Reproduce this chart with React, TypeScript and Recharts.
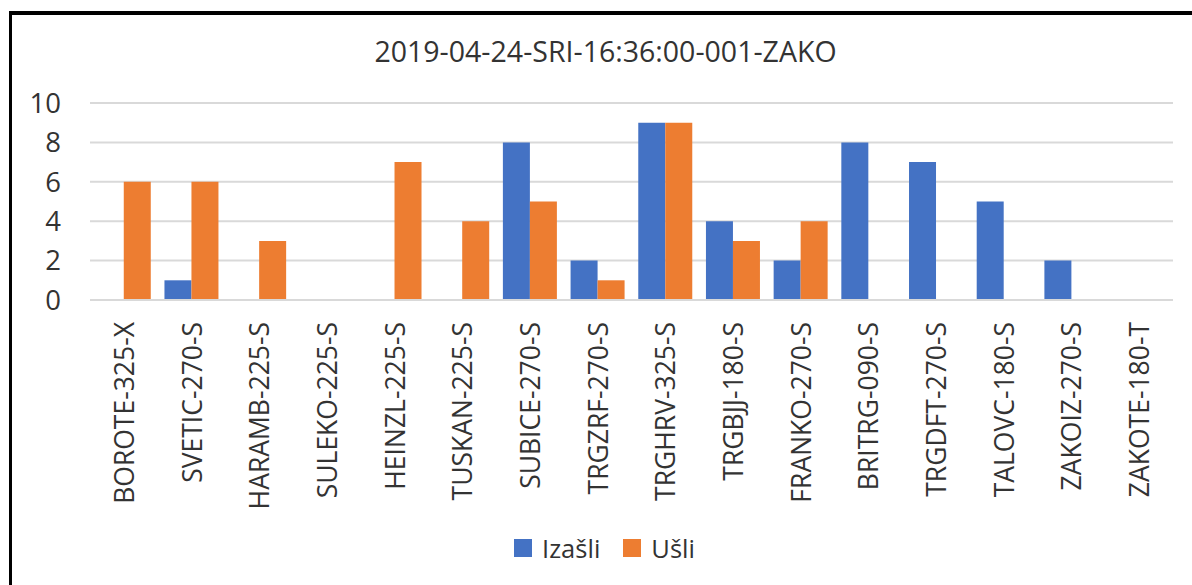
import { BarChart, Bar, XAxis, YAxis, CartesianGrid, Legend } from 'recharts';

const stations = [
  'BOROTE-325-X', 'SVETIC-270-S', 'HARAMB-225-S', 'SULEKO-225-S',
  'HEINZL-225-S', 'TUSKAN-225-S', 'SUBICE-270-S', 'TRGZRF-270-S',
  'TRGHRV-325-S', 'TRGBJJ-180-S', 'FRANKO-270-S', 'BRITRG-090-S',
  'TRGDFT-270-S', 'TALOVC-180-S', 'ZAKOIZ-270-S', 'ZAKOTE-180-T',
];
const izasli = [0, 1, 0, 0, 0, 0, 8, 2, 9, 4, 2, 8, 7, 5, 2, 0];
const usli = [6, 6, 3, 0, 7, 4, 5, 1, 9, 3, 4, 0, 0, 0, 0, 0];
const yTicks = [0, 2, 4, 6, 8, 10];

const data = stations.map((name, i) => ({ name, izasli: izasli[i], usli: usli[i] }));

const BLUE = '#4472C4';
const ORANGE = '#ED7D31';
const TEXT = '#333333';
const FONT = '"Open Sans", sans-serif';

function XTick({ x, y, payload }: any) {
  return (
    <text
      x={x}
      y={y + 20}
      transform={`rotate(-90, ${x}, ${y + 20})`}
      textAnchor="end"
      dominantBaseline="central"
      fontSize={26.5}
      fill={TEXT}
      fontFamily={FONT}
    >
      {payload.value}
    </text>
  );
}

function LegendBox() {
  const items = [
    { label: 'Izašli', color: BLUE },
    { label: 'Ušli', color: ORANGE },
  ];
  return (
    <div style={{ display: 'flex', justifyContent: 'center', alignItems: 'center', paddingTop: 16, paddingLeft: 36, fontFamily: FONT, fontSize: 25.5, color: TEXT }}>
      {items.map((it, i) => (
        <div key={it.label} style={{ display: 'flex', alignItems: 'center', marginLeft: i ? 23 : 0 }}>
          <span style={{ width: 18, height: 18, background: it.color, display: 'inline-block', marginRight: 10 }} />
          <span>{it.label}</span>
        </div>
      ))}
    </div>
  );
}

export default function App() {
  return (
    <div style={{ position: 'fixed', left: 0, top: 0, width: 1192, height: 585, overflow: 'hidden', background: '#fff' }}>
      <div style={{ position: 'absolute', left: 9, top: 11, width: 1300, height: 700, borderLeft: '3px solid #000', borderTop: '4px solid #000' }} />
      <div style={{ position: 'absolute', left: 0, top: 31, width: 1211, textAlign: 'center', fontFamily: FONT, fontSize: 28.5, lineHeight: '40px', color: TEXT }}>
        2019-04-24-SRI-16:36:00-001-ZAKO
      </div>
      <div style={{ position: 'absolute', left: 0, top: 0 }}>
        <BarChart width={1192} height={585} data={data} margin={{ top: 103, right: 19, left: 0, bottom: 0 }} barCategoryGap="10%" barGap={0}>
          <CartesianGrid vertical={false} stroke="#D9D9D9" strokeWidth={2} />
          <XAxis dataKey="name" interval={0} height={215} axisLine={{ stroke: '#D9D9D9', strokeWidth: 2 }} tickLine={false} tickSize={0} tick={<XTick />} />
          <YAxis
            width={90}
            domain={[0, 10]}
            ticks={yTicks}
            axisLine={false}
            tickLine={false}
            tickSize={0}
            tickMargin={29}
            tick={{ fontSize: 27.5, fill: TEXT, fontFamily: FONT }}
          />
          <Legend verticalAlign="bottom" height={70} content={<LegendBox />} />
          <Bar dataKey="izasli" name="Izašli" fill={BLUE} isAnimationActive={false} />
          <Bar dataKey="usli" name="Ušli" fill={ORANGE} isAnimationActive={false} />
        </BarChart>
      </div>
    </div>
  );
}
